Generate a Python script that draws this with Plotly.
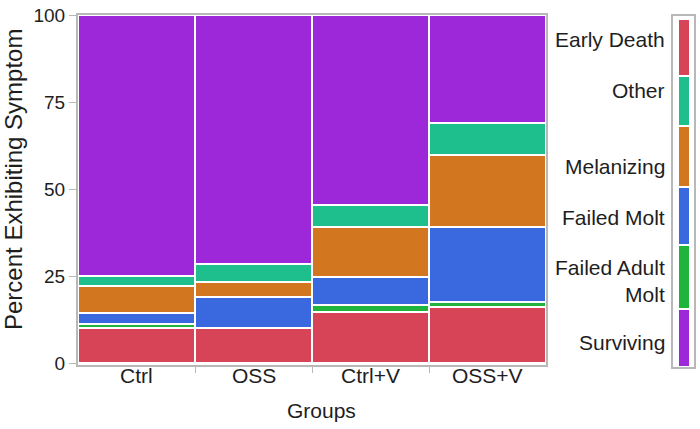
import plotly.graph_objects as go

# ---------------- data ----------------
groups = ["Ctrl", "OSS", "Ctrl+V", "OSS+V"]

# percent of each group (stacked bottom -> top)
early_death       = [10.0, 10.1, 14.7, 16.1]
failed_adult_molt = [1.15, 0.0, 2.1, 1.5]
failed_molt       = [3.35, 8.8, 8.0, 21.6]
melanizing        = [7.5, 4.5, 14.4, 20.6]
other             = [3.0, 5.0, 6.3, 9.3]
surviving         = [75.0, 71.6, 54.5, 30.9]

stack_order = ["Early Death", "Failed Adult Molt", "Failed Molt",
               "Melanizing", "Other", "Surviving"]
stack_values = [early_death, failed_adult_molt, failed_molt,
                melanizing, other, surviving]

# legend strip (top -> bottom) and relative sizes of its swatches
legend_order = ["Early Death", "Other", "Melanizing", "Failed Molt",
                "Failed Adult Molt", "Surviving"]
legend_share = [16.6, 14.2, 17.6, 16.6, 18.4, 16.6]

# ---------------- styles ----------------
colors = {
    "Early Death": "#d74357",
    "Other": "#1fbe8d",
    "Melanizing": "#d2761f",
    "Failed Molt": "#3a69df",
    "Failed Adult Molt": "#1fb43b",
    "Surviving": "#9c28da",
}
legend_text = {"Failed Adult Molt": "Failed Adult<br>Molt"}
label_nudge = [2.3, 3.1, -2.9, -0.4, -1.1, -1.4]   # small vertical text offsets

FONT = "Liberation Sans, Arial, sans-serif"
W, H = 700, 429
FRAME = "#b8b8b8"
TEXT = "#1e1e1e"


def px_x(p):
    return p / W


def px_y(p):
    return (H - p) / H


fig = go.Figure()

xpos = [i + 0.5 for i in range(len(groups))]
for name, vals in zip(stack_order, stack_values):
    fig.add_trace(go.Bar(
        x=xpos, y=vals, width=1.0, name=name,
        marker=dict(color=colors[name], line=dict(color="white", width=2.5)),
        xaxis="x", yaxis="y", showlegend=False,
    ))

# legend strip as a stacked bar on its own axes (bottom -> top)
for name, share in zip(reversed(legend_order), reversed(legend_share)):
    fig.add_trace(go.Bar(
        x=[0.524], y=[share], width=0.6, name=name,
        marker=dict(color=colors[name], line=dict(color="white", width=2.5)),
        xaxis="x2", yaxis="y2", showlegend=False,
    ))

annotations = []

# group labels under the bars
for xv, g in zip(xpos, groups):
    annotations.append(dict(
        text=g, xref="x", yref="paper", x=xv, y=px_y(375),
        xanchor="center", yanchor="middle", showarrow=False,
        font=dict(family=FONT, size=21, color=TEXT),
    ))

# legend labels at swatch centres
total = sum(legend_share)
top = total
for name, share, nudge in zip(legend_order, legend_share, label_nudge):
    centre = top - share / 2
    top -= share
    annotations.append(dict(
        text=legend_text.get(name, name), xref="paper", yref="y2",
        x=px_x(667), y=centre + nudge, xanchor="right", yanchor="middle",
        showarrow=False, align="right",
        font=dict(family=FONT, size=21, color=TEXT),
    ))

annotations.append(dict(
    text="Percent Exhibiting Symptom", xref="paper", yref="paper",
    x=px_x(13), y=px_y(180), textangle=-90, showarrow=False,
    xanchor="center", yanchor="middle",
    font=dict(family=FONT, size=24, color=TEXT),
))
annotations.append(dict(
    text="Groups", xref="paper", yref="paper",
    x=px_x(321), y=px_y(410), showarrow=False,
    xanchor="center", yanchor="middle",
    font=dict(family=FONT, size=21, color=TEXT),
))

fig.update_layout(
    template="none",
    width=W, height=H,
    margin=dict(l=0, r=0, t=0, b=0, pad=0, autoexpand=False),
    paper_bgcolor="white", plot_bgcolor="white",
    barmode="stack", bargap=0,
    annotations=annotations,
    xaxis=dict(
        domain=[px_x(78), px_x(546)], range=[0, len(groups)],
        automargin=False, showticklabels=False,
        tickvals=xpos, ticks="",
        showline=True, mirror=True, linecolor=FRAME, linewidth=2,
        showgrid=False, zeroline=False,
        minor=dict(tickvals=[1, 2, 3], ticks="outside", ticklen=6,
                   tickcolor=FRAME, tickwidth=1, showgrid=False),
    ),
    yaxis=dict(
        domain=[px_y(365), px_y(15)], range=[-0.57, 100],
        automargin=False,
        tickvals=[0, 25, 50, 75, 100], ticks="outside", ticklen=7,
        tickcolor=FRAME, tickwidth=1,
        tickfont=dict(family=FONT, size=19, color=TEXT),
        showline=True, mirror=True, linecolor=FRAME, linewidth=2,
        showgrid=False, zeroline=False,
    ),
    xaxis2=dict(
        domain=[px_x(673), px_x(694)], range=[0, 1], anchor="y2",
        automargin=False,
        showticklabels=False, ticks="", showgrid=False, zeroline=False,
        showline=True, mirror=True, linecolor=FRAME, linewidth=2,
    ),
    yaxis2=dict(
        domain=[px_y(367), px_y(16)], range=[0, total * 351 / 348.5],
        automargin=False,
        anchor="x2", showticklabels=False, ticks="", showgrid=False,
        zeroline=False, showline=True, mirror=True, linecolor=FRAME,
        linewidth=2,
    ),
)

fig.write_html(
    "out.html",
    config={"displayModeBar": False},
    post_script="document.body.style.margin='0px';"
                "document.body.style.overflow='hidden';",
)
